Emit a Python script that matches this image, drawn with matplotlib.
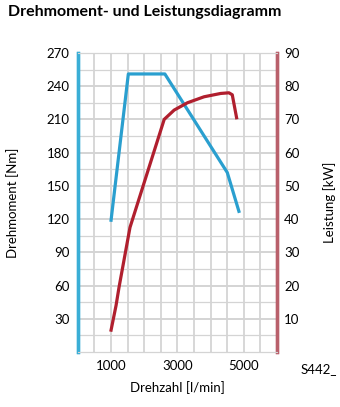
import matplotlib
matplotlib.use('Agg')
import matplotlib.pyplot as plt

# Drehmoment (Nm) ueber Drehzahl
torque_rpm = [1000, 1520, 2620, 4500, 4850]
torque_nm = [119, 251, 251, 162, 127]

# Leistung (kW) ueber Drehzahl
power_rpm = [1000, 1150, 1240, 1570, 2600, 2900, 3300, 3800, 4300, 4550, 4650, 4780]
power_kw = [6.6, 14, 19.5, 37.5, 70, 72.8, 75.0, 76.8, 77.8, 78.0, 77.4, 70.5]

x_ticks = [1000, 3000, 5000]
torque_ticks = [30, 60, 90, 120, 150, 180, 210, 240, 270]
power_ticks = [10, 20, 30, 40, 50, 60, 70, 80, 90]

BLUE = '#2a9fcf'
BLUE_AXIS = '#3aaed6'
RED = '#b01f2e'
RED_AXIS = '#b9606b'
GRID = '#d4d4d4'

plt.rcParams['font.family'] = ['Lato', 'DejaVu Sans']

fig = plt.figure(figsize=(3.4, 4.07), dpi=100)
ax = fig.add_axes([0.229, 0.135, 0.586, 0.735])
ax2 = ax.twinx()

ax.set_xlim(0, 6000)
ax.set_ylim(0, 270)
ax2.set_ylim(0, 90)

# Gitter: alle 500 1/min und alle 15 Nm
for x in range(500, 6000, 500):
    ax.axvline(x, color=GRID, lw=1.3, zorder=0)
for y in range(15, 271, 15):
    ax.axhline(y, color=GRID, lw=1.4 if y % 30 == 0 else 0.9, zorder=0)

ax.plot(torque_rpm, torque_nm, color=BLUE, lw=2.3, solid_joinstyle='round', zorder=3)
ax2.plot(power_rpm, power_kw, color=RED, lw=2.3, solid_joinstyle='round', zorder=3)

for a in (ax, ax2):
    a.spines['top'].set_color(GRID)
    a.spines['bottom'].set_color(GRID)
    a.spines['left'].set_color(BLUE_AXIS)
    a.spines['left'].set_linewidth(2.4)
    a.spines['right'].set_color(RED_AXIS)
    a.spines['right'].set_linewidth(2.4)

ax.set_xticks(x_ticks)
ax.set_yticks(torque_ticks)
ax2.set_yticks(power_ticks)
ax.tick_params(axis='both', length=0, labelsize=9.5, pad=6)
ax2.tick_params(axis='y', length=0, labelsize=9.5, pad=5)

ax.set_xlabel('Drehzahl [l/min]', fontsize=9.5, labelpad=6)
ax.set_ylabel('Drehmoment [Nm]', fontsize=9.5, labelpad=20)
ax2.set_ylabel('Leistung [kW]', fontsize=9.5, rotation=90, labelpad=17)

fig.text(0.024, 0.97, 'Drehmoment- und Leistungsdiagramm', fontsize=11.5,
         fontweight='bold', va='center', ha='left')
fig.text(0.885, 0.093, 'S442_', fontsize=9.5, va='center', ha='left')

fig.savefig('out.png', dpi=100)
